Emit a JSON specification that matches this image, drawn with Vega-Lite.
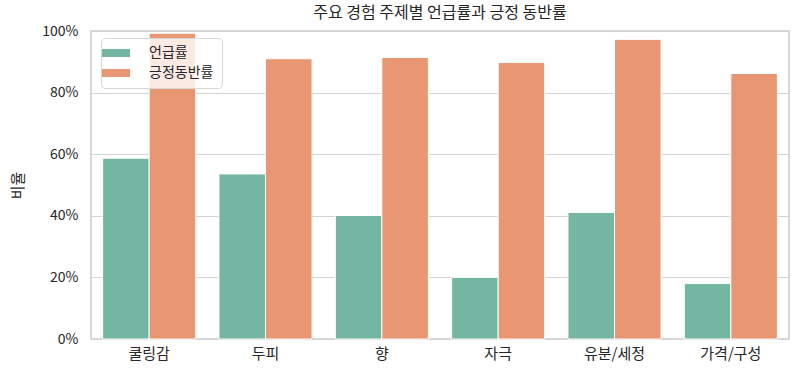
{
  "$schema": "https://vega.github.io/schema/vega-lite/v6.json",
  "width": 698,
  "height": 308,
  "autosize": {"type": "none"},
  "padding": {"left": 91, "top": 31, "right": 9, "bottom": 37},
  "background": "white",
  "title": {"text": "주요 경험 주제별 언급률과 긍정 동반률", "fontSize": 16, "fontWeight": "normal", "font": "Noto Sans CJK KR", "color": "#262626", "offset": 3, "anchor": "middle"},
  "config": {
    "font": "Noto Sans CJK KR",
    "view": {"stroke": "#cccccc", "strokeWidth": 1.5},
    "axis": {"labelFont": "Noto Sans CJK KR", "titleFont": "Noto Sans CJK KR", "labelColor": "#262626", "titleColor": "#262626", "labelFontSize": 14, "titleFontSize": 15, "titleFontWeight": "normal", "domain": false, "ticks": false}
  },
  "data": {"values": [
    {"topic": "쿨링감", "series": "언급률", "value": 0.587},
    {"topic": "쿨링감", "series": "긍정동반률", "value": 0.993},
    {"topic": "두피", "series": "언급률", "value": 0.536},
    {"topic": "두피", "series": "긍정동반률", "value": 0.910},
    {"topic": "향", "series": "언급률", "value": 0.401},
    {"topic": "향", "series": "긍정동반률", "value": 0.914},
    {"topic": "자극", "series": "언급률", "value": 0.200},
    {"topic": "자극", "series": "긍정동반률", "value": 0.898},
    {"topic": "유분/세정", "series": "언급률", "value": 0.411},
    {"topic": "유분/세정", "series": "긍정동반률", "value": 0.973},
    {"topic": "가격/구성", "series": "언급률", "value": 0.180},
    {"topic": "가격/구성", "series": "긍정동반률", "value": 0.862}
  ]},
  "mark": {"type": "bar", "stroke": "white", "strokeWidth": 1},
  "encoding": {
    "x": {"field": "topic", "type": "nominal", "sort": ["쿨링감", "두피", "향", "자극", "유분/세정", "가격/구성"],
      "scale": {"paddingInner": 0.2, "paddingOuter": 0.1},
      "axis": {"title": null, "labelAngle": 0, "labelPadding": 7, "labelFontSize": 15, "grid": false}},
    "xOffset": {"field": "series", "type": "nominal", "sort": ["언급률", "긍정동반률"], "scale": {"paddingInner": 0, "paddingOuter": 0}},
    "y": {"field": "value", "type": "quantitative", "scale": {"domain": [0, 1], "nice": false},
      "axis": {"title": "비율", "format": ".0%", "values": [0, 0.2, 0.4, 0.6, 0.8, 1.0], "grid": true, "gridColor": "#d4d4d4", "gridWidth": 1.2, "labelPadding": 13, "titlePadding": 16}},
    "color": {"field": "series", "type": "nominal", "sort": ["언급률", "긍정동반률"],
      "scale": {"domain": ["언급률", "긍정동반률"], "range": ["#73b6a1", "#e99673"]},
      "legend": {"title": null, "orient": "none", "legendX": 10, "legendY": 7, "labelFontSize": 14, "labelColor": "#262626", "labelFont": "Noto Sans CJK KR",
        "symbolType": "M-2.8,-0.8H2.8V0.8H-2.8Z", "symbolSize": 100, "symbolStrokeWidth": 0, "symbolOpacity": 1,
        "fillColor": "rgba(255,255,255,0.8)", "strokeColor": "#d6d6d6", "cornerRadius": 4, "padding": 8, "rowPadding": 6, "labelOffset": 26, "offset": 0}}
  }
}
